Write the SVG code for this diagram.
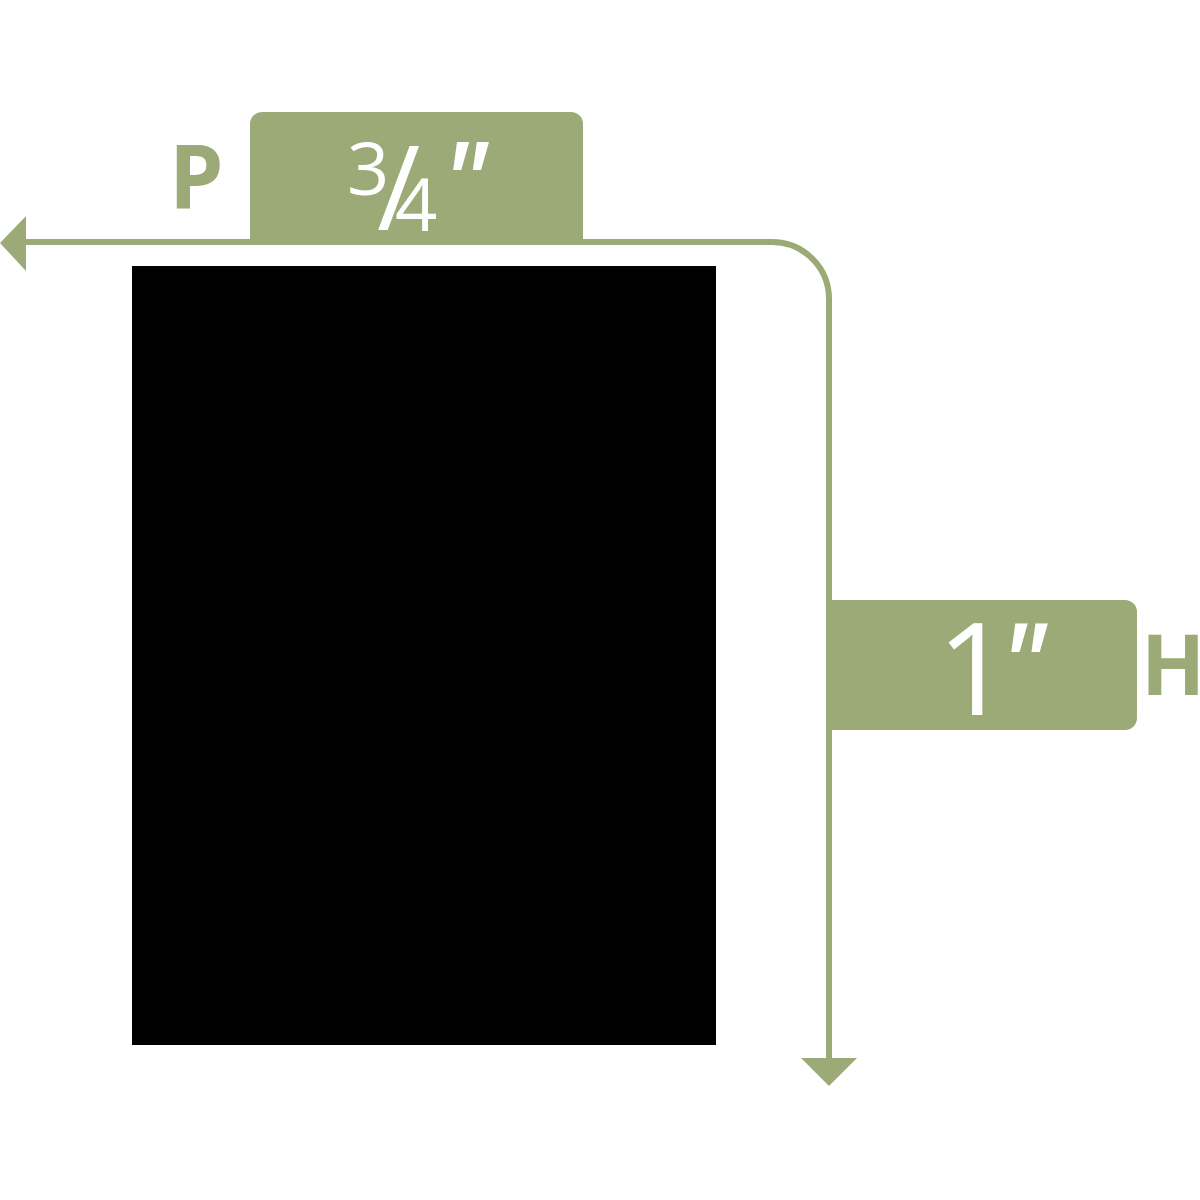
<svg xmlns="http://www.w3.org/2000/svg" width="1200" height="1200" viewBox="0 0 1200 1200">
<style>
.g{fill:#9BAA76}
.ln{fill:none;stroke:#9BAA76;stroke-width:6}
.lbl{font-family:"Open Sans","Liberation Sans",sans-serif;font-weight:700;fill:#9BAA76}
.val{font-family:"Open Sans","Liberation Sans",sans-serif;fill:#FFFFFF}
.q{font-style:italic;font-weight:600}
</style>
<rect width="1200" height="1200" fill="#FFFFFF"/>
<g id="block">
<rect x="132" y="266" width="584" height="779" fill="#000000"/>
</g>
<g id="connectors">
<path class="ln" d="M22 242 H772 A57 57 0 0 1 829 299 V1060"/>
<polygon class="g" points="0,243 26,216 26,271"/>
<polygon class="g" points="801,1058 857,1058 829,1086"/>
</g>
<g id="depth-label">
<path class="g" d="M250 245 V124 A12 12 0 0 1 262 112 H571 A12 12 0 0 1 583 124 V245 Z"/>
<text class="lbl" x="169" y="208" font-size="87">P</text>
<text class="val" font-size="74"><tspan x="347" y="195">3</tspan><tspan x="377" y="230" font-size="118">/</tspan><tspan x="395" y="231">4</tspan><tspan class="q" x="442" y="220" font-size="108">"</tspan></text>
</g>
<g id="height-label">
<path class="g" d="M829 600 H1125 A12 12 0 0 1 1137 612 V718 A12 12 0 0 1 1125 730 H829 Z"/>
<text class="val" font-size="129"><tspan x="937" y="715">1</tspan><tspan class="q" x="1000" y="703" font-size="110">"</tspan></text>
<text class="lbl" x="1141" y="695" font-size="84">H</text>
</g>
</svg>
